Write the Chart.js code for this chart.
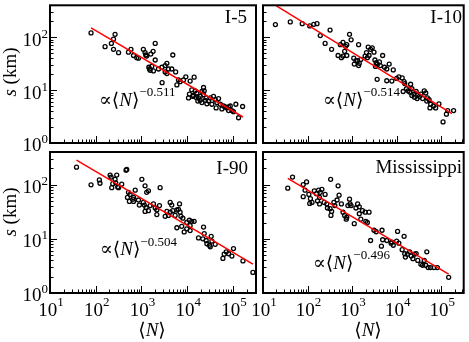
<!DOCTYPE html>
<html><head><meta charset="utf-8">
<script src="https://cdn.jsdelivr.net/npm/chart.js@4/dist/chart.umd.min.js"></script>
<style>
html,body{margin:0;padding:0;background:#fff;}
#wrap{position:relative;width:469px;height:342px;overflow:hidden;background:#fff;}
canvas{position:absolute;left:0;top:0;}
</style></head><body>
<div id="wrap">
<canvas id="c0" width="469" height="342"></canvas>
<canvas id="c1" width="469" height="342"></canvas>
<canvas id="c2" width="469" height="342"></canvas>
<canvas id="c3" width="469" height="342"></canvas>
</div>
<script>
// ---- data ----
const panelNames = ['I-5', 'I-10', 'I-90', 'Mississippi'];
const exponents = ['\u22120.511', '\u22120.514', '\u22120.504', '\u22120.496'];
const xTickExps = [1, 2, 3, 4, 5];
const yTickExps = [0, 1, 2];

const i5N = [79,160,220,245,265,245,316,590,520,670,790,860,1100,1200,1240,1300,1600,1800,2000,2000,1450,1500,1550,1830,1680,2360,2800,3300,3600,3900,3300,3600,4850,4600,5600,2830,6450,5950,7000,8300,9350,11600,14200,11200,12600,15000,13800,16300,17700,19300,21000,22800,23600,22800,26000,24800,29300,32000,37700,41000,44700,48500,53000,27000,34700,43000,57500,62500,68000,74000,80500,87500,95000,103000,116000,133000,163000,19300,17100,21000,15500,13300,10700,80500];
const i5S = [120,66,76,92,113,59,51,59,52,45,41,40,59,51,46,44,48,54,76,37,27,25,23.6,23,28,25,27,29,32,25,22,20.5,46,25,22,13.8,15.5,12.5,14.4,15.5,17.8,14.8,17.5,8.4,10.1,9.7,7.9,8.8,7.1,7.6,9.4,11.2,9.7,8.2,7.1,6.4,6.2,7.1,7.6,6.6,5.8,6.9,5.4,5.5,5.4,4.6,4.4,5.0,4.8,4.6,4.8,5.0,4.1,3.9,5.4,3.0,4.9,6.4,6.2,5.8,7.3,7.6,7.1,4.1];
const i5FitN = [79, 166000];
const i5FitS = [150, 3.1];

const i10N = [19,41,76,112,138,163,193,248,320,347,545,875,625,715,760,680,485,575,625,760,950,1400,1090,1220,1120,1400,1450,1330,1570,1960,2100,2300,2600,2830,3100,2400,2200,3250,3470,3700,3350,4100,4850,4300,5350,6000,6800,8400,3650,6000,7800,10000,11200,13300,14700,14000,16600,18000,20600,22000,19600,24400,25200,27400,29800,32500,35000,38300,41700,45000,49000,53500,58000,56000,75000,89000,110000,131000,140000,190000,22000,28800,67000,47500,15200];
const i10S = [173,194,180,163,175,180,107,76,136,59,72,113,80,67,72,54,45,41,44,45,89,72,40,36,31,29,32,36,38,44,51,65,59,63,52,45,41,37,33,31,28,34,45,29,27,25,31,24,16,15,14.8,16.6,17.8,17,14.4,9.4,10.6,9.7,12.9,10.6,9.2,8.4,7.3,9.4,8.2,7.6,8.4,6.9,9.7,8.8,7.1,6.6,5.4,4.6,4.6,5.5,2.5,3.5,4.1,4.1,7.9,6.9,5.0,6.2,13.3];
const i10FitN = [20, 174000];
const i10FitS = [390, 3.6];

const i90N = [38,79,120,124,206,217,236,224,265,288,316,274,477,460,520,565,494,645,545,670,730,860,900,1020,1200,1300,1420,1100,1160,1260,1200,1420,1550,1830,2000,2170,2560,2480,2170,3300,3600,3900,4250,4600,4250,4850,5450,5950,6800,6450,7000,7300,8050,5950,7600,8600,9800,11200,12600,9800,11600,14200,17700,22800,23600,22000,26000,27000,30800,33500,34700,32000,41000,60500,64500,71500,80500,95000,103000,166000,274000,11600,370,303,670];
const i90S = [210,99,122,106,150,138,104,88,125,150,88,108,190,185,72,66,58,54,49,49,79,52,42,125,95,72,77,47,42,38,32,33,41,44,37,34,88,41,28,26,32,27,47,42,31,33,27,34,44,35,31,26,24,16,17,13.4,20,22,21,15.3,14.2,21,10.4,16.5,12.5,10,9.3,8.1,7.6,11.1,9.1,7.1,7.9,4.35,5.2,5.75,5.3,4.8,6.6,3.9,2.4,17.5,102,90,58];
const i90FitN = [38, 274000];
const i90FitS = [282, 3.4];

const missN = [36,46,80,95,88,80,107,116,112,126,142,158,177,193,210,186,168,186,248,236,270,280,320,347,335,330,390,410,485,510,575,625,680,740,760,875,900,950,1120,1220,1330,1450,1450,1570,1710,1960,2200,2400,2030,2600,3100,3470,4700,4850,4550,6000,7500,8400,10000,10500,11200,13300,14700,15200,15700,17400,19600,21300,23200,25200,27400,29800,35000,38300,41700,45000,47500,51000,58000,69000,82000,147000,7800,460,805];
const missS = [86,138,100,112,79,60,66,55,45,47,77,68,79,72,82,58,50,44,66,47,44,37,36,32,27,125,47,41,95,64,44,31,27,23,25,54,44,41,19,37,44,39,29,23,33,31,20,31,21,9.3,14.4,13.5,14.4,9.6,7.3,9.3,8.3,7.6,9.1,13.7,8.3,6.3,11.1,5.3,4.6,5.2,5.75,4.8,4.3,5.2,5.35,4.0,3.4,3.25,4.0,3.25,5.75,2.95,2.95,2.95,2.95,1.95,8.7,52,41];
const missFitN = [36, 147000];
const missFitS = [130, 2.23];

// ---- layout / styling ----
const W = 469, H = 342;
const XMIN = 10, XMAX = 3.2e5, YMIN = 1, YMAX = 400;
const SERIF = '"Liberation Serif","Times New Roman","DejaVu Serif",serif';
const BASE = '19px ' + SERIF, SUP = '13px ' + SERIF, ITAL = 'italic 19px ' + SERIF;

const panels = [
  {id:'c0', N:i5N, S:i5S, fN:i5FitN, fS:i5FitS, area:[50,1,256,143], nameX:247, nameY:23, annX:99, annY:101, expY:93, yLab:true, xLab:false, yTitleY:72},
  {id:'c1', N:i10N, S:i10S, fN:i10FitN, fS:i10FitS, area:[263,1,468,143], nameX:462, nameY:23, annX:323, annY:101, expY:93, yLab:false, xLab:false},
  {id:'c2', N:i90N, S:i90S, fN:i90FitN, fS:i90FitS, area:[50,152,256,293], nameX:248, nameY:174, annX:100, annY:250, expY:243, yLab:true, xLab:true, yTitleY:212, xTitleX:152},
  {id:'c3', N:missN, S:missS, fN:missFitN, fS:missFitS, area:[263,152,468,293], nameX:462, nameY:173, annX:313, annY:264, expY:256, yLab:false, xLab:true, xTitleX:368}
];

function pts(xs, ys){ return xs.map((x,i)=>({x:x, y:ys[i]})); }

function drawPow(ctx, exp, x, baseY, supY, align){
  ctx.font = BASE; const wb = ctx.measureText('10').width;
  ctx.font = SUP; const ws = ctx.measureText(String(exp)).width;
  let sx = align === 'right' ? x - wb - ws : x - (wb + ws)/2;
  ctx.textAlign = 'left'; ctx.textBaseline = 'middle';
  ctx.font = BASE; ctx.fillText('10', sx, baseY);
  ctx.font = SUP; ctx.fillText(String(exp), sx + wb, supY);
}

function decorPlugin(p, idx){
  return {
    id: 'decor' + idx,
    afterDraw(chart){
      const ctx = chart.ctx, a = chart.chartArea;
      const xs = chart.scales.x, ys = chart.scales.y;
      ctx.save();
      ctx.fillStyle = '#000'; ctx.strokeStyle = '#000';
      ctx.lineWidth = 1;
      ctx.beginPath();
      for (let d = 1; d <= 5; d++){
        for (let m = 1; m <= 9; m++){
          const v = m * Math.pow(10, d);
          if (v > XMAX) break;
          const px = Math.round(xs.getPixelForValue(v)) + 0.5;
          if (px <= a.left + 1 || px >= a.right - 1) continue;
          const len = m === 1 ? 7 : 3.5;
          ctx.moveTo(px, a.bottom); ctx.lineTo(px, a.bottom - len);
        }
      }
      for (let d = 0; d <= 2; d++){
        for (let m = 1; m <= 9; m++){
          const v = m * Math.pow(10, d);
          if (v > YMAX) break;
          const py = Math.round(ys.getPixelForValue(v)) + 0.5;
          if (py >= a.bottom - 1 || py <= a.top + 1) continue;
          const len = m === 1 ? 7 : 3.5;
          ctx.moveTo(a.left, py); ctx.lineTo(a.left + len, py);
        }
      }
      ctx.stroke();
      ctx.lineWidth = 2;
      ctx.strokeRect(a.left, a.top, a.right - a.left, a.bottom - a.top);
      if (p.yLab){
        yTickExps.forEach(e => {
          const py = ys.getPixelForValue(Math.pow(10, e));
          drawPow(ctx, e, a.left - 2, py + 3.5, py - 3, 'right');
        });
      }
      if (p.xLab){
        xTickExps.forEach(e => {
          const px = xs.getPixelForValue(Math.pow(10, e));
          drawPow(ctx, e, px + 1, a.bottom + 18.5, a.bottom + 9.5, 'center');
        });
      }
      ctx.font = BASE; ctx.textAlign = 'right'; ctx.textBaseline = 'alphabetic';
      ctx.fillText(panelNames[idx], p.nameX, p.nameY);
      ctx.textAlign = 'left'; ctx.textBaseline = 'middle';
      let x = p.annX;
      ctx.font = BASE; ctx.fillText('\u221D\u27E8', x, p.annY); x += ctx.measureText('\u221D\u27E8').width;
      ctx.font = ITAL; ctx.fillText('N', x, p.annY); x += ctx.measureText('N').width;
      ctx.font = BASE; ctx.fillText('\u27E9', x, p.annY); x += ctx.measureText('\u27E9').width;
      ctx.font = SUP; ctx.fillText(exponents[idx], x, p.expY);
      if (p.yTitleY){
        ctx.save();
        ctx.translate(11, p.yTitleY); ctx.rotate(-Math.PI/2);
        ctx.font = ITAL; const w1 = ctx.measureText('s').width;
        ctx.font = BASE; const w2 = ctx.measureText(' (km)').width;
        let sx = -(w1 + w2)/2;
        ctx.textAlign = 'left'; ctx.textBaseline = 'middle';
        ctx.font = ITAL; ctx.fillText('s', sx, 0);
        ctx.font = BASE; ctx.fillText(' (km)', sx + w1, 0);
        ctx.restore();
      }
      if (p.xTitleX){
        ctx.font = BASE; const wa = ctx.measureText('\u27E8').width, wc = ctx.measureText('\u27E9').width;
        ctx.font = ITAL; const wn = ctx.measureText('N').width;
        let sx = p.xTitleX - (wa + wn + wc)/2, y = 331;
        ctx.textAlign = 'left'; ctx.textBaseline = 'middle';
        ctx.font = BASE; ctx.fillText('\u27E8', sx, y);
        ctx.font = ITAL; ctx.fillText('N', sx + wa, y);
        ctx.font = BASE; ctx.fillText('\u27E9', sx + wa + wn, y);
      }
      ctx.restore();
    }
  };
}

panels.forEach((p, idx) => {
  new Chart(document.getElementById(p.id), {
    type: 'scatter',
    data: {
      datasets: [
        {type:'line', data: pts(p.fN, p.fS), borderColor:'#ff0000', borderWidth:1.5, pointRadius:0, fill:false, tension:0},
        {data: pts(p.N, p.S), pointStyle:'circle', pointRadius:2, borderWidth:1.3, borderColor:'#000', backgroundColor:'rgba(0,0,0,0)'}
      ]
    },
    options: {
      responsive:false, animation:false, devicePixelRatio:1, events:[],
      layout:{padding:{left:p.area[0], top:p.area[1], right:W - p.area[2], bottom:H - p.area[3]}},
      plugins:{legend:{display:false}, tooltip:{enabled:false}, title:{display:false}},
      scales:{
        x:{type:'logarithmic', min:XMIN, max:XMAX, display:false},
        y:{type:'logarithmic', min:YMIN, max:YMAX, display:false}
      }
    },
    plugins:[decorPlugin(p, idx)]
  });
});
</script>
</body></html>
